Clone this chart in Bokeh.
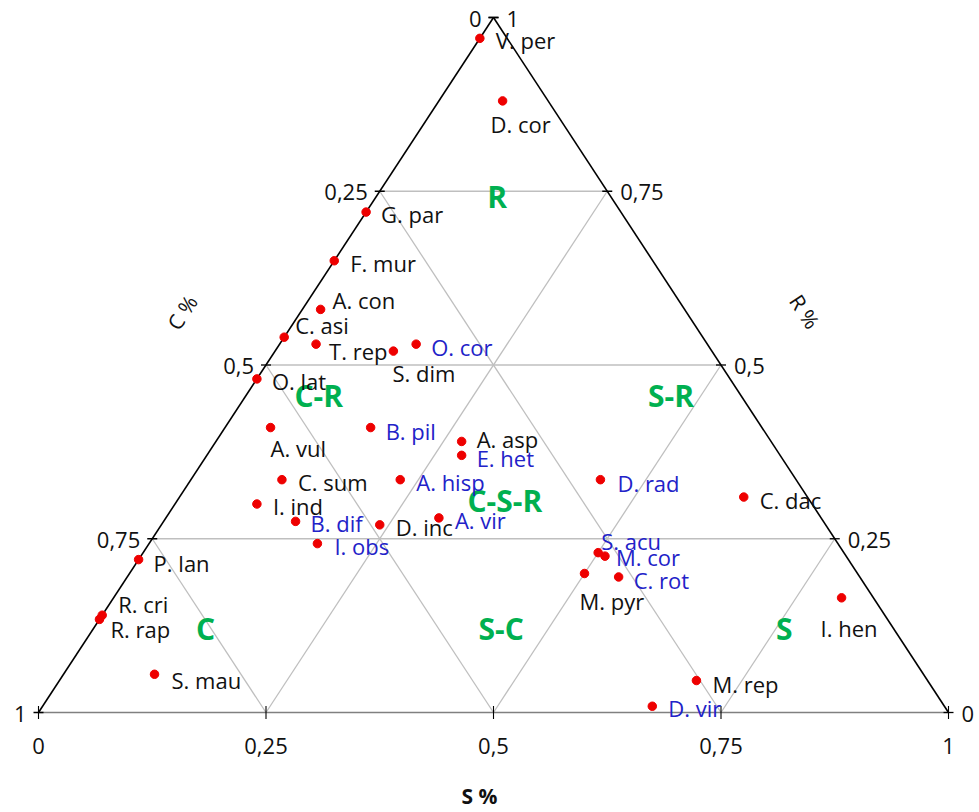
import math
from bokeh.plotting import figure
from bokeh.models import ColumnDataSource, Range1d
from bokeh.core.properties import value
from bokeh.embed import file_html
from bokeh.resources import INLINE

# ---------------- data ----------------
species = ["V. per", "D. cor", "G. par", "F. mur", "A. con", "C. asi", "T. rep",
           "O. cor", "S. dim", "O. lat", "A. vul", "B. pil", "A. asp", "E. het",
           "A. hisp", "C. sum", "D. rad", "C. dac", "I. ind", "B. dif", "D. inc",
           "A. vir", "I. obs", "P. lan", "S. acu", "M. cor", "M. pyr", "C. rot",
           "R. cri", "R. rap", "S. mau", "I. hen", "M. rep", "D. vir"]
s_share = [0.00, 0.07, 0.00, 0.00, 0.02, 0.00, 0.04,
           0.15, 0.13, 0.00, 0.05, 0.16, 0.27, 0.28,
           0.23, 0.10, 0.45, 0.62, 0.09, 0.145, 0.24,
           0.30, 0.185, 0.00, 0.50, 0.51, 0.50, 0.54,
           0.00, 0.00, 0.10, 0.80, 0.70, 0.67]
r_share = [0.97, 0.88, 0.72, 0.65, 0.58, 0.54, 0.53,
           0.53, 0.52, 0.48, 0.41, 0.41, 0.39, 0.37,
           0.335, 0.335, 0.335, 0.31, 0.30, 0.275, 0.27,
           0.28, 0.243, 0.22, 0.23, 0.225, 0.20, 0.195,
           0.14, 0.134, 0.055, 0.165, 0.046, 0.009]
label_group = ["k", "k", "k", "k", "k", "k", "k",
               "b", "k", "k", "k", "b", "k", "b",
               "b", "k", "b", "k", "k", "b", "k",
               "b", "b", "k", "b", "b", "k", "b",
               "k", "k", "k", "k", "k", "b"]

tick_values = [0, 0.25, 0.5, 0.75, 1]
tick_labels = ["0", "0,25", "0,5", "0,75", "1"]
grid_values = [0.25, 0.5, 0.75]

regions = ["R", "C-R", "S-R", "C-S-R", "C", "S-C", "S"]
region_s = [0.133, 0.08, 0.467, 0.36, 0.123, 0.448, 0.759]
region_r = [0.742, 0.456, 0.456, 0.305, 0.121, 0.121, 0.121]

# label placement (screen px, relative to the dot)
label_dx = [16, -12, 15, 16, 12, 11, 13, 15, -1, 15, 0, 15, 15, 15, 16, 16, 17,
            16, 16, 15, 16, 16, 17, 15, 3, 11, -5, 15, 16, 11, 17, -21, 16, 16]
label_dy = [2, 23, 2, 2, -9, -12, 7, 3, 22, 2, 20, 3, -2, 3, 2, 2, 3,
            3, 2, 2, 2, 2, 2, 3, -12, 1, 27, 3, -11, 10, 6, 30, 3, 2]


def to_xy(s, r):
    return s + r / 2.0, r


FONT = value("Open Sans")
BLACK_TXT = "#111111"
BLUE_TXT = "#2222C8"
GREEN = "#00B050"

W, H = 977, 812
X0, SX = 38, 910      # pixel of S=0 corner, pixel width of triangle base
Y0, SY = 712, 695     # pixel of base, pixel height of triangle

p = figure(width=W, height=H, output_backend="svg", toolbar_location=None,
           x_range=Range1d(-X0 / SX, (W - X0) / SX),
           y_range=Range1d((Y0 - H) / SY, Y0 / SY),
           x_axis_location=None, y_axis_location=None, min_border=0)
p.grid.visible = False
p.outline_line_color = None
p.background_fill_color = "white"

# grid lines
gx, gy = [], []
for g in grid_values:
    for (s0, r0), (s1, r1) in [((0, g), (1 - g, g)),
                               ((g, 0), (g, 1 - g)),
                               ((1 - g, 0), (0, 1 - g))]:
        x0, y0 = to_xy(s0, r0)
        x1, y1 = to_xy(s1, r1)
        gx.append([x0, x1])
        gy.append([y0, y1])
p.multi_line(gx, gy, line_color="#BFBFBF", line_width=1.3)

# triangle sides
p.line([0, 1], [0, 0], line_color="#808080", line_width=1.6)
p.line([0, 0.5], [0, 1], line_color="black", line_width=1.6)
p.line([1, 0.5], [0, 1], line_color="black", line_width=1.6)

# ticks
lx = [to_xy(0, 1 - t)[0] for t in tick_values]
ly = [to_xy(0, 1 - t)[1] for t in tick_values]
rx = [to_xy(1 - t, t)[0] for t in tick_values]
ry = [to_xy(1 - t, t)[1] for t in tick_values]
bx = [to_xy(t, 0)[0] for t in tick_values]
by = [to_xy(t, 0)[1] for t in tick_values]
p.scatter(lx, ly, marker="dash", size=10, line_color="black", line_width=1.3)
p.scatter(rx, ry, marker="dash", size=10, line_color="black", line_width=1.3)
p.scatter(bx, by, marker="dash", size=13, angle=math.pi / 2, line_color="black", line_width=1.1)

tick_kw = dict(text_font=FONT, text_font_size="22px", text_color=BLACK_TXT,
               text_baseline="middle")
p.text(lx, ly, text=tick_labels, text_align="right", x_offset=-12, y_offset=1, **tick_kw)
p.text(rx, ry, text=tick_labels, text_align="left", x_offset=13, y_offset=1, **tick_kw)
p.text(bx, by, text=tick_labels, text_align="center", y_offset=33, **tick_kw)

# axis titles
ang = math.atan2(SY, SX / 2)
p.text([0.158], [0.5755], text=["C %"], angle=ang, text_align="center",
       text_baseline="middle", text_font=FONT, text_font_size="21px", text_color=BLACK_TXT)
p.text([0.842], [0.577], text=["R %"], angle=-ang, text_align="center",
       text_baseline="middle", text_font=FONT, text_font_size="21px", text_color=BLACK_TXT)
p.text([0.4846], [(Y0 - 795) / SY], text=["S %"], text_align="center",
       text_baseline="middle", text_font=FONT, text_font_size="21px",
       text_font_style="bold", text_color=BLACK_TXT)

# region labels
rxy = [to_xy(s, r) for s, r in zip(region_s, region_r)]
p.text([a for a, b in rxy], [b for a, b in rxy], text=regions, text_align="center",
       text_baseline="middle", text_font=FONT, text_font_size="30px",
       text_font_style="bold", text_color=GREEN)

# points
xs = [to_xy(s, r)[0] for s, r in zip(s_share, r_share)]
ys = [to_xy(s, r)[1] for s, r in zip(s_share, r_share)]
colors = [BLUE_TXT if g == "b" else BLACK_TXT for g in label_group]
src = ColumnDataSource(dict(x=xs, y=ys, name=species, color=colors,
                            dx=label_dx, dy=label_dy))
p.scatter("x", "y", source=src, size=8.5, fill_color="#EE0000", line_color="#EE0000")
p.text("x", "y", text="name", source=src, text_color="color", x_offset="dx",
       y_offset="dy", text_align="left", text_baseline="middle",
       text_font=FONT, text_font_size="22px")

open("out.html", "w").write(file_html(p, INLINE))
